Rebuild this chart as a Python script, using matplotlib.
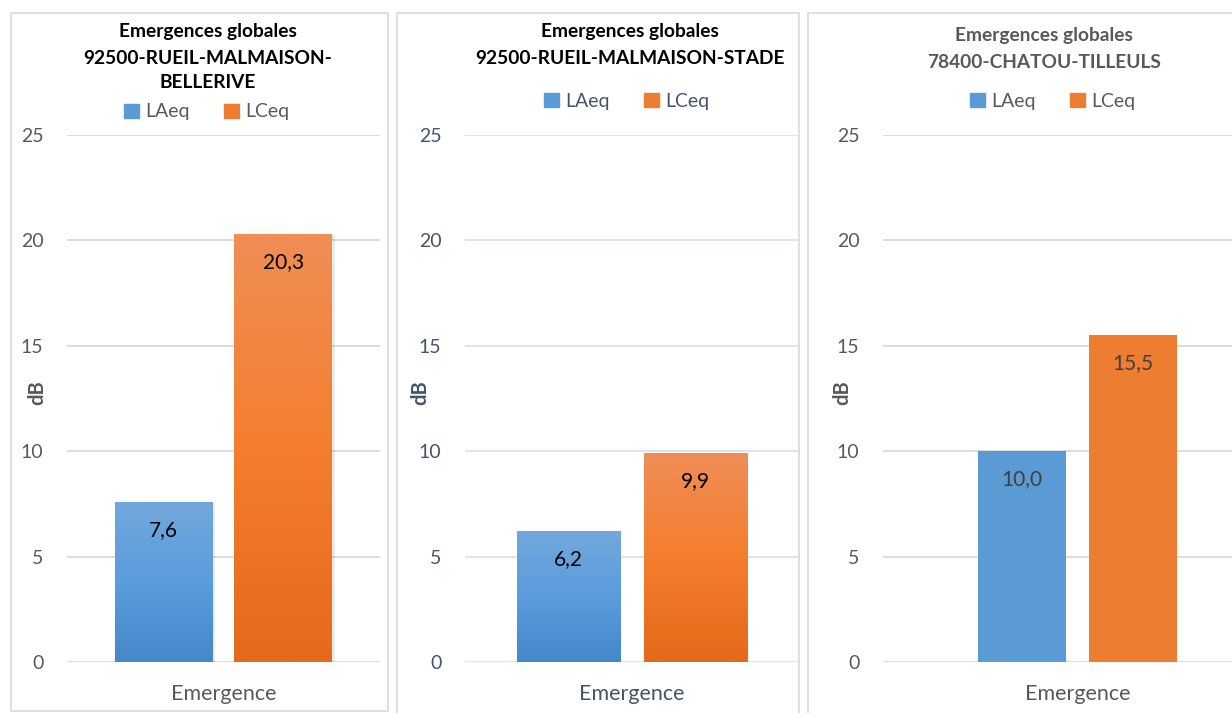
import numpy as np
import matplotlib
matplotlib.use('Agg')
import matplotlib.pyplot as plt
import matplotlib.patches as mpatches
import matplotlib.patheffects as pe
from matplotlib.colors import LinearSegmentedColormap

plt.rcParams['font.family'] = ['Lato', 'DejaVu Sans']

# values per station
titles = [
    ['Emergences globales', '92500-RUEIL-MALMAISON-', 'BELLERIVE'],
    ['Emergences globales', '92500-RUEIL-MALMAISON-STADE'],
    ['Emergences globales', '78400-CHATOU-TILLEULS'],
]
series = ['LAeq', 'LCeq']
category = 'Emergence'
laeq = [7.6, 6.2, 10.0]
lceq = [20.3, 9.9, 15.5]
yticks = [0, 5, 10, 15, 20, 25]

W, H = 1232, 713
fig = plt.figure(figsize=(W / 100, H / 100), dpi=100)


def fx(x):
    return x / W


def fy(y):
    return 1 - y / H


blue, orange = '#5B9BD5', '#ED7D31'
blue_grad = LinearSegmentedColormap.from_list('b', ['#4588C9', '#5A9CDC', '#72A8DD'])
orange_grad = LinearSegmentedColormap.from_list('o', ['#E5691A', '#F47E2E', '#F08E56'])

# per panel layout: axes box in pixels, bar width / gap in axes units, styling
panels = [
    dict(box=(11, 388), ax=(67, 380), bw=0.313, gap=0.07, grad=True, shadow=True,
         tcol='black', lab='black', txt='#595959', grid='#D9D9D9',
         title_y=[31, 58, 83], title_x=208, leg=(207, 112), ylab_x=37),
    dict(box=(397, 799), ax=(465, 799), bw=0.311, gap=0.069, grad=True, shadow=False,
         tcol='black', lab='black', txt='#44546A', grid='#DDE2E8',
         title_y=[31, 58], title_x=630, leg=(627, 101), ylab_x=420),
    dict(box=(808, 1400), ax=(883, 1272), bw=0.226, gap=0.059, grad=False, shadow=False,
         tcol='#595959', lab='#404040', txt='#595959', grid='#D9D9D9',
         title_y=[36, 63], title_x=1044, leg=(1053, 101), ylab_x=842),
]

top_px, base_px = 135, 662

for i, p in enumerate(panels):
    # panel frame
    l, r = p['box']
    fig.patches.append(mpatches.Rectangle((fx(l), fy(711 if i == 0 else 740)),
                                          (r - l) / W, (711 - 13 + (0 if i == 0 else 29)) / H,
                                          transform=fig.transFigure, fill=False,
                                          edgecolor='#D9D9D9', lw=1.2))

    a0, a1 = p['ax']
    ax = fig.add_axes([fx(a0), fy(base_px), (a1 - a0) / W, (base_px - top_px) / H])
    ax.set_xlim(-0.5, 0.5)
    ax.set_ylim(0, 25)
    for s in ax.spines.values():
        s.set_visible(False)
    ax.set_yticks(yticks)
    ax.set_yticklabels([str(t) for t in yticks])
    ax.set_xticks([0])
    ax.set_xticklabels([category])
    ax.tick_params(axis='y', length=0, pad=17, labelsize=14, labelcolor=p['txt'])
    ax.tick_params(axis='x', length=0, pad=16, labelsize=15.5, labelcolor=p['txt'])
    ax.yaxis.grid(True, color=p['grid'], lw=1.3)
    ax.set_axisbelow(True)

    off = (p['bw'] + p['gap']) / 2
    vals = [laeq[i], lceq[i]]
    cols = [blue, orange]
    grads = [blue_grad, orange_grad]
    for xpos, v, c, g in zip([-off, off], vals, cols, grads):
        bars = ax.bar(xpos, v, width=p['bw'], color=c, zorder=2)
        rect = bars[0]
        if p['shadow']:
            rect.set_path_effects([pe.SimplePatchShadow(offset=(2, -1), shadow_rgbFace='#000000', alpha=0.08),
                                   pe.Normal()])
        if p['grad']:
            img = ax.imshow(np.linspace(0, 1, 256).reshape(-1, 1), cmap=g, origin='lower',
                            extent=(xpos - p['bw'] / 2, xpos + p['bw'] / 2, 0, v),
                            aspect='auto', zorder=3)
            img.set_clip_path(rect)
        ax.annotate(f'{v:.1f}'.replace('.', ','), (xpos, v), xytext=(0, -28),
                    textcoords='offset pixels', ha='center', va='center',
                    fontsize=15, color=p['lab'], zorder=4)
    ax.set_xlim(-0.5, 0.5)
    ax.set_ylim(0, 25)

    # title lines
    for line, ty in zip(titles[i], p['title_y']):
        fig.text(fx(p['title_x']), fy(ty), line, ha='center', va='center',
                 fontsize=13.8, fontweight='bold', color=p['tcol'])

    # y axis label
    fig.text(fx(p['ylab_x']), fy(393), 'dB', rotation=90, ha='center', va='center',
             fontsize=14.5, fontweight='bold', color=p['txt'])

    # legend
    handles = [mpatches.Rectangle((0, 0), 1, 1, color=c) for c in cols]
    lx, ly = p['leg']
    fig.legend(handles, series, loc='center', bbox_to_anchor=(fx(lx), fy(ly)),
               ncol=2, frameon=False, fontsize=14, labelcolor=p['txt'],
               handlelength=0.75, handleheight=0.75, handletextpad=0.35,
               columnspacing=1.75, borderpad=0, borderaxespad=0)

fig.savefig('out.png', dpi=100, facecolor='white')
